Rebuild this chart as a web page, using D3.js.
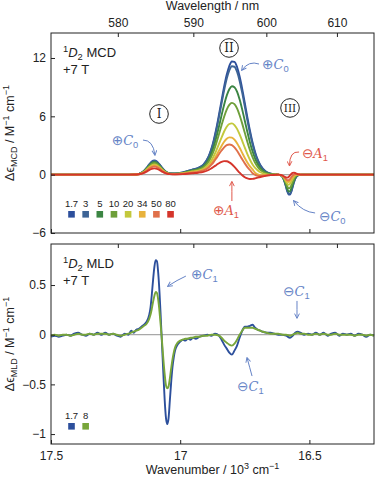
<!DOCTYPE html>
<meta charset="utf-8">
<style>
body { margin: 0; background: #fff; }
text { font-family: "Liberation Sans", Arial, sans-serif; fill: #222; }
.frame { fill: none; stroke: #222; stroke-width: 1; }
.axis .domain { display: none; }
.axis line { stroke: #222; }
.axis text { font-size: 12px; fill: #222; font-family: "Liberation Sans", Arial, sans-serif; }
.series { fill: none; stroke-width: 1.9; stroke-linejoin: round; }
</style>
<body>
<script src="https://cdn.jsdelivr.net/npm/d3@7"></script>
<script>

// MCD data, wavenumber in 10^3 cm-1, one array per temperature (K)
var mcdTemps = ["1.7", "3", "5", "10", "20", "34", "50", "80"];
var mcdWavenumber = [17.50, 17.40, 17.30, 17.22, 17.17, 17.15, 17.14, 17.13, 17.12, 17.11,
  17.10, 17.09, 17.08, 17.07, 17.06, 17.05, 17.04, 17.02, 16.99, 16.97,
  16.95, 16.93, 16.91, 16.89, 16.88, 16.87, 16.86, 16.85, 16.84, 16.83,
  16.82, 16.81, 16.80, 16.79, 16.78, 16.77, 16.76, 16.75, 16.74, 16.73,
  16.72, 16.71, 16.70, 16.69, 16.67, 16.65, 16.63, 16.62, 16.61, 16.60,
  16.595, 16.59, 16.585, 16.58, 16.575, 16.57, 16.565, 16.56, 16.555, 16.55,
  16.545, 16.54, 16.53, 16.50, 16.45, 16.40, 16.35, 16.30, 16.25];
var mcd1p7 = [0, 0, 0, 0, 0.03, 0.20, 0.40, 0.71, 1.05, 1.34, 1.45, 1.34, 1.05, 0.71,
  0.41, 0.22, 0.12, 0.12, 0.23, 0.39, 0.55, 0.71, 1.04,
  1.88, 2.61, 3.58, 4.78, 6.16, 7.61, 9.04, 10.27, 11.17, 11.64,
  11.6, 11.07, 10.10, 8.83, 7.38, 5.89, 4.51, 3.30, 2.31, 1.54, 0.99, 0.36, 0.11, 0.03,
  -0.01, -0.09, -0.45, -0.82, -1.30, -1.76, -2.05, -2.05, -1.76, -1.29, -0.81, -0.43, -0.20, -0.08, -0.03, 0,
  0, 0, 0, 0, 0, 0];
var mcd3 = [0, 0, 0, 0, 0.03, 0.19, 0.39, 0.68, 1.02, 1.29, 1.40, 1.29, 1.02, 0.68,
  0.40, 0.21, 0.12, 0.11, 0.22, 0.38, 0.53, 0.68, 1.00,
  1.82, 2.52, 3.45, 4.60, 5.92, 7.32, 8.68, 9.86, 10.72, 11.15,
  11.10, 10.58, 9.64, 8.41, 7.02, 5.60, 4.28, 3.12, 2.18, 1.46, 0.93, 0.33, 0.10, 0.03,
  -0.01, -0.08, -0.43, -0.79, -1.25, -1.69, -1.96, -1.95, -1.67, -1.22, -0.76, -0.40, -0.18, -0.07, -0.02, 0,
  0, 0, 0, 0, 0, 0];
var mcd5 = [0, 0, 0, 0, 0.03, 0.18, 0.36, 0.63, 0.94, 1.20, 1.30, 1.20, 0.94, 0.63,
  0.37, 0.19, 0.11, 0.10, 0.19, 0.33, 0.46, 0.59, 0.87,
  1.55, 2.14, 2.91, 3.87, 4.96, 6.10, 7.20, 8.13, 8.79, 9.10,
  9.00, 8.53, 7.72, 6.69, 5.54, 4.38, 3.32, 2.40, 1.66, 1.10, 0.69, 0.24, 0.07, 0.02,
  -0.01, -0.08, -0.39, -0.71, -1.12, -1.50, -1.73, -1.70, -1.43, -1.03, -0.63, -0.33, -0.14, -0.05, -0.02, 0,
  0, 0, 0, 0, 0, 0];
var mcd10 = [0, 0, 0, 0, 0.02, 0.16, 0.33, 0.58, 0.87, 1.11, 1.20, 1.11, 0.87, 0.58,
  0.34, 0.18, 0.10, 0.09, 0.16, 0.28, 0.40, 0.51, 0.75,
  1.32, 1.82, 2.46, 3.26, 4.15, 5.08, 5.96, 6.69, 7.18, 7.38,
  7.25, 6.81, 6.11, 5.25, 4.30, 3.36, 2.52, 1.80, 1.22, 0.80, 0.49, 0.17, 0.05, 0.01,
  -0.01, -0.07, -0.34, -0.61, -0.94, -1.24, -1.40, -1.35, -1.11, -0.77, -0.45, -0.22, -0.09, -0.03, -0.01, 0,
  0, 0, 0, 0, 0, 0];
var mcd20 = [0, 0, 0, 0, 0.02, 0.14, 0.29, 0.51, 0.76, 0.97, 1.05, 0.97, 0.76, 0.51,
  0.30, 0.16, 0.08, 0.07, 0.14, 0.24, 0.33, 0.42, 0.61,
  1.05, 1.43, 1.92, 2.51, 3.16, 3.82, 4.44, 4.92, 5.21, 5.28,
  5.10, 4.71, 4.14, 3.48, 2.78, 2.12, 1.53, 1.05, 0.69, 0.43, 0.25, 0.05, -0.02, 0,
  -0.01, -0.06, -0.27, -0.49, -0.73, -0.94, -1.03, -0.95, -0.74, -0.47, -0.24, -0.10, -0.02, 0, 0, 0,
  0, 0, 0, 0, 0, 0];
var mcd34 = [0, 0, 0, 0, 0.02, 0.13, 0.26, 0.46, 0.69, 0.88, 0.95, 0.88, 0.69, 0.46,
  0.27, 0.14, 0.07, 0.06, 0.11, 0.19, 0.27, 0.34, 0.49,
  0.85, 1.15, 1.53, 1.98, 2.47, 2.95, 3.38, 3.69, 3.84, 3.81,
  3.60, 3.24, 2.77, 2.24, 1.72, 1.24, 0.85, 0.54, 0.20, 0.03, -0.06, -0.06, -0.02, 0,
  -0.01, -0.05, -0.23, -0.39, -0.58, -0.72, -0.75, -0.65, -0.46, -0.25, -0.09, -0.01, 0.02, 0.02, 0.01, 0,
  0, 0, 0, 0, 0, 0];
var mcd50 = [0, 0, 0, 0, 0.02, 0.11, 0.24, 0.41, 0.62, 0.78, 0.85, 0.78, 0.62, 0.41,
  0.24, 0.12, 0.06, 0.05, 0.09, 0.16, 0.22, 0.29, 0.43,
  0.74, 1.00, 1.32, 1.70, 2.10, 2.48, 2.81, 3.03, 3.10, 3.03,
  2.80, 2.46, 2.03, 1.58, 1.16, 0.78, 0.48, 0.15, -0.02, -0.12, -0.14, -0.08, -0.03, -0.01,
  -0.01, -0.04, -0.20, -0.33, -0.48, -0.57, -0.57, -0.45, -0.27, -0.10, 0.01, 0.06, 0.05, 0.04, 0.02, 0,
  0, 0, 0, 0, 0, 0];
var mcd80 = [0, 0, 0, 0, 0.01, 0.09, 0.18, 0.32, 0.47, 0.60, 0.65, 0.60, 0.47, 0.32,
  0.18, 0.09, 0.05, 0.03, 0.06, 0.10, 0.15, 0.20, 0.29,
  0.48, 0.63, 0.81, 1.00, 1.18, 1.32, 1.39, 1.38, 1.27, 1.07,
  0.80, 0.50, 0.20, -0.06, -0.26, -0.38, -0.44, -0.43, -0.38, -0.31, -0.24, -0.12, -0.05, -0.02,
  0, -0.03, -0.14, -0.22, -0.29, -0.30, -0.22, -0.08, 0.07, 0.18, 0.20, 0.17, 0.11, 0.06, 0.03, 0,
  0, 0, 0, 0, 0, 0];

// MLD data
var mldTemps = ["1.7", "8"];
var mldWavenumber = [17.500, 17.485, 17.470, 17.455, 17.440, 17.425, 17.410, 17.395, 17.380, 17.365,
  17.350, 17.335, 17.320, 17.305, 17.290, 17.275, 17.260, 17.245, 17.230, 17.215,
  17.200, 17.190, 17.180, 17.170, 17.160, 17.150, 17.140, 17.130, 17.120, 17.115,
  17.110, 17.105, 17.100, 17.095, 17.090, 17.085, 17.080, 17.075, 17.070, 17.065,
  17.060, 17.055, 17.050, 17.045, 17.040, 17.035, 17.030, 17.025, 17.020, 17.010,
  17.000, 16.990, 16.980, 16.970, 16.960, 16.950, 16.940, 16.925, 16.910, 16.895,
  16.880, 16.865, 16.850, 16.840, 16.830, 16.820, 16.810, 16.800, 16.790, 16.780,
  16.770, 16.760, 16.750, 16.740, 16.730, 16.720, 16.710, 16.700, 16.690, 16.680,
  16.665, 16.650, 16.635, 16.620, 16.605, 16.590, 16.575, 16.565, 16.555, 16.545,
  16.535, 16.520, 16.505, 16.490, 16.475, 16.460, 16.445, 16.430, 16.415, 16.400,
  16.385, 16.370, 16.355, 16.340, 16.325, 16.310, 16.295, 16.280, 16.265, 16.250];
var mld1p7 = [-0.02, -0.01, -0.02, -0.01, 0.00, -0.01, 0.01, 0.02, 0.00, -0.01,
  0.01, 0.00, 0.02, 0.00, 0.02, 0.00, 0.01, -0.01, -0.02, 0.01,
  0.00, 0.04, 0.02, 0.05, 0.06, 0.08, 0.10, 0.13, 0.20, 0.27,
  0.40, 0.55, 0.68, 0.75, 0.74, 0.62, 0.42, 0.16, -0.12, -0.40,
  -0.66, -0.84, -0.90, -0.84, -0.66, -0.48, -0.33, -0.23, -0.16, -0.10,
  -0.07, -0.05, -0.06, -0.04, -0.05, -0.03, -0.04, -0.02, -0.01, 0.00,
  -0.01, 0.01, -0.01, -0.05, -0.10, -0.14, -0.18, -0.20, -0.16, -0.11,
  -0.03, 0.04, 0.08, 0.08, 0.09, 0.10, 0.07, 0.05, 0.04, 0.03,
  0.02, 0.02, 0.01, 0.00, 0.00, -0.01, -0.03, -0.01, 0.02, 0.03,
  0.02, 0.00, 0.01, 0.00, 0.02, 0.00, 0.02, -0.01, 0.01, 0.02,
  -0.01, 0.01, 0.00, 0.01, -0.01, 0.01, 0.00, -0.02, 0.00, -0.01];
var mld8 = [-0.01, 0.00, -0.01, 0.00, 0.00, -0.01, 0.00, 0.01, 0.00, 0.00,
  0.01, 0.00, 0.01, 0.01, 0.01, 0.00, 0.01, 0.00, -0.01, 0.00,
  0.01, 0.02, 0.03, 0.04, 0.05, 0.07, 0.09, 0.11, 0.16, 0.20,
  0.26, 0.33, 0.39, 0.43, 0.42, 0.35, 0.23, 0.08, -0.08, -0.25,
  -0.40, -0.51, -0.54, -0.52, -0.44, -0.34, -0.25, -0.18, -0.13, -0.08,
  -0.06, -0.05, -0.04, -0.04, -0.03, -0.03, -0.02, -0.02, -0.01, -0.01,
  0.00, 0.00, -0.01, -0.03, -0.06, -0.08, -0.10, -0.11, -0.09, -0.05,
  0.00, 0.04, 0.07, 0.07, 0.07, 0.07, 0.06, 0.05, 0.04, 0.03,
  0.02, 0.01, 0.01, 0.01, 0.00, 0.00, -0.01, 0.00, 0.01, 0.02,
  0.01, 0.01, 0.00, 0.00, 0.01, 0.00, 0.01, 0.00, 0.00, 0.01,
  0.00, 0.00, 0.00, 0.00, -0.01, 0.00, 0.00, -0.01, 0.00, -0.01];

// tick labels
var wavelengthTicks = [580, 590, 600, 610];
var wavenumberTicks = [17.5, 17, 16.5];
var mcdTicks = [-6, 0, 6, 12];
var mldTicks = [-1, -0.5, 0, 0.5];

var mcdSeries = [mcd1p7, mcd3, mcd5, mcd10, mcd20, mcd34, mcd50, mcd80];
var mldSeries = [mld1p7, mld8];
var mcdColors = ["#2c4f9c", "#3d6496", "#3b8543", "#6e9f3a", "#c3c83c", "#e8b23c", "#e0704a", "#d5352b"];
var mldColors = ["#2c4f9c", "#78a63a"];
var noteBlue = "#6583c6", noteRed = "#e0574a";

var width = 377, height = 480;
var left = 51, right = 374;
var top1 = 33, bot1 = 233, top2 = 244, bot2 = 444;

var svg = d3.select("body").append("svg")
    .attr("width", width)
    .attr("height", height);

var x = d3.scaleLinear().domain([17.5, 16.25]).range([left, right]);
var yMcd = d3.scaleLinear().domain([-6, 14.57]).range([bot1, top1]);
var yMld = d3.scaleLinear().domain([-1.1, 0.913]).range([bot2, top2]);

// arrow heads
var defs = svg.append("defs");
[["blue", noteBlue], ["red", noteRed]].forEach(function(m) {
  defs.append("marker")
      .attr("id", "arrow-" + m[0])
      .attr("viewBox", "0 0 10 10")
      .attr("refX", 8).attr("refY", 5)
      .attr("markerWidth", 6).attr("markerHeight", 6)
      .attr("markerUnits", "userSpaceOnUse")
      .attr("orient", "auto")
    .append("path")
      .attr("d", "M1,1 L9,5 L1,9")
      .attr("fill", "none")
      .attr("stroke", m[1])
      .attr("stroke-width", 1.6);
});

// text with sub/superscripts
function rich(sel, parts, fs) {
  var shift = 0;
  parts.forEach(function(p) {
    var kind = p[1] || "";
    var target = kind.indexOf("sup") >= 0 ? -0.38 * fs : kind.indexOf("sub") >= 0 ? 0.26 * fs : 0;
    var t = sel.append("tspan").text(p[0]);
    if (target != shift) t.attr("dy", target - shift);
    shift = target;
    if (target != 0) t.attr("font-size", 0.72 * fs);
    if (kind.indexOf("it") >= 0) t.attr("font-style", "italic");
    if (kind.indexOf("cal") >= 0) t.attr("font-family", "DejaVu Serif").attr("font-style", "italic");
    if (kind.indexOf("sym") >= 0) t.attr("font-family", "DejaVu Sans").attr("font-size", fs * 1.05);
  });
}

function panel(yScale, series, wn, colors, y0, y1, ticks) {
  var g = svg.append("g");
  // zero line
  g.append("line")
      .attr("x1", left).attr("x2", right)
      .attr("y1", yScale(0)).attr("y2", yScale(0))
      .attr("stroke", "#a8a8a8")
      .attr("stroke-width", 1.2);

  var line = d3.line()
      .x(function(d, i) { return x(wn[i]); })
      .y(function(d) { return yScale(d); })
      .curve(d3.curveMonotoneX);

  g.selectAll(".series")
      .data(series)
    .enter().append("path")
      .attr("class", "series")
      .attr("stroke", function(d, i) { return colors[i]; })
      .attr("d", line);

  g.append("rect")
      .attr("class", "frame")
      .attr("x", left).attr("y", y0)
      .attr("width", right - left).attr("height", y1 - y0);

  g.append("g").attr("class", "axis")
      .attr("transform", "translate(" + left + ",0)")
      .call(d3.axisLeft(yScale).tickValues(ticks).tickSize(-4).tickPadding(5)
        .tickFormat(d3.format("")));
  return g;
}

panel(yMcd, mcdSeries, mcdWavenumber, mcdColors, top1, bot1, mcdTicks);
panel(yMld, mldSeries, mldWavenumber, mldColors, top2, bot2, mldTicks);

// wavelength axis on top (nm), positioned by wavenumber
var nmPos = wavelengthTicks.map(function(l) { return 1e4 / l; });
svg.append("g").attr("class", "axis")
    .attr("transform", "translate(0," + top1 + ")")
    .call(d3.axisTop(x).tickValues(nmPos).tickSize(-4).tickPadding(6)
      .tickFormat(function(d) { return Math.round(1e4 / d); }));
svg.append("g").attr("class", "axis")
    .attr("transform", "translate(0," + top2 + ")")
    .call(d3.axisTop(x).tickValues(nmPos).tickSize(-4).tickFormat(""));

// wavenumber axis
svg.append("g").attr("class", "axis")
    .attr("transform", "translate(0," + bot1 + ")")
    .call(d3.axisBottom(x).tickValues(wavenumberTicks).tickSize(-4).tickFormat(""));
svg.append("g").attr("class", "axis")
    .attr("transform", "translate(0," + bot2 + ")")
    .call(d3.axisBottom(x).tickValues(wavenumberTicks).tickSize(-4).tickPadding(7)
      .tickFormat(d3.format("")));

// axis titles
svg.append("text")
    .attr("x", (left + right) / 2).attr("y", 10)
    .attr("text-anchor", "middle")
    .style("font-size", "12.5px")
    .text("Wavelength / nm");

rich(svg.append("text")
    .attr("x", (left + right) / 2).attr("y", 474)
    .attr("text-anchor", "middle")
    .style("font-size", "12.5px"),
  [["Wavenumber / 10"], ["3", "sup"], [" cm"], ["\u22121", "sup"]], 12.5);

rich(svg.append("text")
    .attr("transform", "translate(14," + (top1 + bot1) / 2 + ") rotate(-90)")
    .attr("text-anchor", "middle")
    .style("font-size", "12.5px"),
  [["\u0394\u03f5"], ["MCD", "sub"], [" / M"], ["\u22121", "sup"], [" cm"], ["\u22121", "sup"]], 12.5);

rich(svg.append("text")
    .attr("transform", "translate(14," + (top2 + bot2) / 2 + ") rotate(-90)")
    .attr("text-anchor", "middle")
    .style("font-size", "12.5px"),
  [["\u0394\u03f5"], ["MLD", "sub"], [" / M"], ["\u22121", "sup"], [" cm"], ["\u22121", "sup"]], 12.5);

// panel titles
function title(y, kind) {
  rich(svg.append("text").attr("x", 63).attr("y", y).style("font-size", "13px"),
    [["1", "sup"], ["D", "it"], ["2", "sub"], [" " + kind]], 13);
  svg.append("text").attr("x", 63).attr("y", y + 17).style("font-size", "13px").text("+7 T");
}
title(top1 + 24, "MCD");
title(top2 + 24, "MLD");

// legends
function legend(labels, colors, yText) {
  labels.forEach(function(lab, i) {
    var cx = 71.5 + i * 14.15;
    svg.append("text")
        .attr("x", cx).attr("y", yText)
        .attr("text-anchor", "middle")
        .style("font-size", "9.5px")
        .text(lab);
    svg.append("rect")
        .attr("x", cx - 3.3).attr("y", yText + 4.5)
        .attr("width", 6.6).attr("height", 6.6)
        .attr("fill", colors[i]);
  });
}
legend(mcdTemps, mcdColors, 206.5);
legend(mldTemps, mldColors, 418.5);

// circled band labels
function band(w, v, label) {
  svg.append("circle")
      .attr("cx", x(w)).attr("cy", yMcd(v)).attr("r", 9.3)
      .attr("fill", "#fff").attr("stroke", "#222").attr("stroke-width", 1);
  svg.append("text")
      .attr("x", x(w)).attr("y", yMcd(v) + 4.3)
      .attr("text-anchor", "middle")
      .style("font-family", "'DejaVu Serif', 'Liberation Serif', serif")
      .style("font-size", label.length > 2 ? "10.5px" : "12px")
      .text(label);
}
band(17.082, 6.24, "I");
band(16.811, 13.03, "II");
band(16.575, 6.86, "III");

// annotations: sign, letter, subscript
function note(yScale, w, v, sign, letter, sub, color) {
  var t = svg.append("text")
      .attr("x", x(w)).attr("y", yScale(v))
      .style("font-size", "13px");
  rich(t, [[sign, "sym"], [letter, "cal"], [sub, "sub"]], 13);
  t.selectAll("tspan").attr("fill", color);
}
function arrow(yScale, a, c, b, color, name) {
  svg.append("path")
      .attr("d", "M" + x(a[0]) + "," + yScale(a[1]) +
        " Q" + x(c[0]) + "," + yScale(c[1]) + " " + x(b[0]) + "," + yScale(b[1]))
      .attr("fill", "none")
      .attr("stroke", color)
      .attr("stroke-width", 1)
      .attr("marker-end", "url(#arrow-" + name + ")");
}

note(yMcd, 17.265, 3.05, "\u2295", "C", "0", noteBlue);
arrow(yMcd, [17.144, 3.56], [17.105, 3.56], [17.098, 2.05], noteBlue, "blue");

note(yMcd, 16.683, 10.87, "\u2295", "C", "0", noteBlue);
arrow(yMcd, [16.695, 11.38], [16.734, 11.75], [16.761, 10.77], noteBlue, "blue");

note(yMcd, 16.529, 1.71, "\u2296", "A", "1", noteRed);
arrow(yMcd, [16.540, 2.33], [16.577, 2.43], [16.577, 0.95], noteRed, "red");

note(yMcd, 16.873, -4.15, "\u2295", "A", "1", noteRed);
arrow(yMcd, [16.800, -2.71], [16.800, -1.7], [16.800, -0.75], noteRed, "red");

note(yMcd, 16.463, -4.77, "\u2296", "C", "0", noteBlue);
arrow(yMcd, [16.478, -3.94], [16.525, -3.84], [16.560, -2.71], noteBlue, "blue");

note(yMld, 16.958, 0.56, "\u2295", "C", "1", noteBlue);
arrow(yMld, [16.978, 0.59], [17.012, 0.55], [17.047, 0.49], noteBlue, "blue");

note(yMld, 16.602, 0.39, "\u2296", "C", "1", noteBlue);
arrow(yMld, [16.548, 0.34], [16.548, 0.25], [16.548, 0.17], noteBlue, "blue");

note(yMld, 16.780, -0.567, "\u2296", "C", "1", noteBlue);
arrow(yMld, [16.722, -0.416], [16.731, -0.33], [16.741, -0.235], noteBlue, "blue");

</script>
</body>
